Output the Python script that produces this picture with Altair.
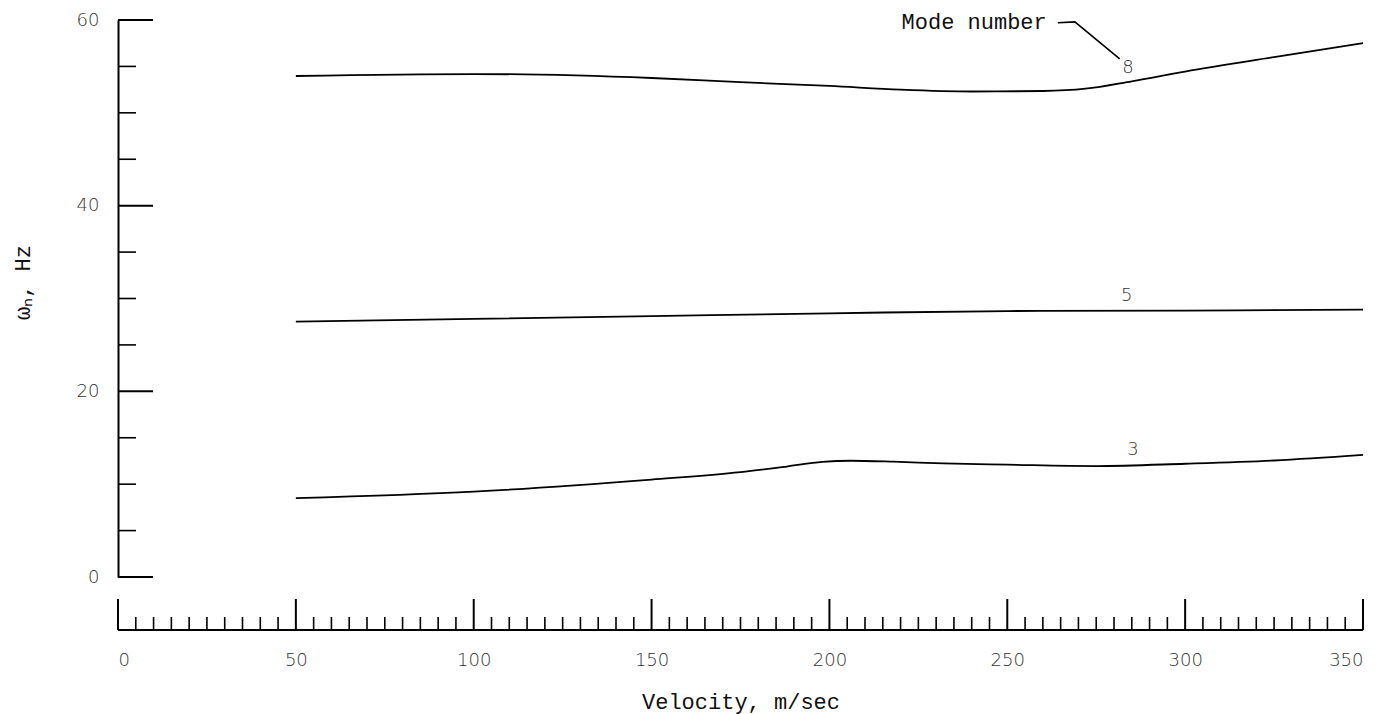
import altair as alt
import pandas as pd

# ---- data ----
mode8_v = [50, 100, 150, 175, 200, 220, 240, 260, 272, 285, 300, 325, 350]
mode8_f = [53.97, 54.18, 53.75, 53.3, 52.9, 52.5, 52.3, 52.35, 52.6, 53.4, 54.45, 56.0, 57.5]

mode5_v = [50, 100, 150, 200, 250, 300, 350]
mode5_f = [27.5, 27.8, 28.1, 28.4, 28.65, 28.7, 28.8]

mode3_v = [50, 100, 150, 175, 188, 198, 206, 218, 232, 250, 275, 300, 325, 350]
mode3_f = [8.5, 9.2, 10.5, 11.3, 11.9, 12.4, 12.52, 12.42, 12.23, 12.1, 11.95, 12.2, 12.55, 13.15]

mode_labels = ["8", "5", "3"]
mode_label_v = [283.9, 283.6, 285.3]
mode_label_f = [54.83, 30.27, 13.68]

note_text = ["Mode number"]
note_v = [261.1]
note_f = [59.8]
leader_v = [264.2, 269.0, 281.6]
leader_f = [59.7, 59.8, 55.8]

x_major = [0, 50, 100, 150, 200, 250, 300, 350]
x_minor = [v for v in range(5, 350, 5) if v % 50 != 0]
y_major = [0, 20, 40, 60]
y_minor = [v for v in range(5, 60, 5) if v % 20 != 0]

W, H = 1245, 557
AX_OFF = 53

rows = []
for name, vs, fs in [("8", mode8_v, mode8_f), ("5", mode5_v, mode5_f), ("3", mode3_v, mode3_f)]:
    for i, (v, f) in enumerate(zip(vs, fs)):
        rows.append({"mode": name, "v": v, "f": f, "i": i})
curves = pd.DataFrame(rows)

xs = alt.Scale(domain=[0, 350], nice=False, zero=False)
ys = alt.Scale(domain=[0, 60], nice=False, zero=False)

LABEL_FONT = "DejaVu Sans"
TITLE_FONT = "Liberation Mono"
TXT = "#333"

base_x = alt.X("v:Q", scale=xs, axis=alt.Axis(
    title="Velocity, m/sec", values=x_major, format="d", offset=AX_OFF,
    domain=False, ticks=False, grid=False, labelPadding=21,
    labelFont=LABEL_FONT, labelFontSize=18, labelFontWeight=300, labelColor=TXT,
    titleFont=TITLE_FONT, titleFontSize=22, titleFontWeight="normal", titleColor="#111",
    titlePadding=22))
base_y = alt.Y("f:Q", scale=ys, axis=alt.Axis(
    title="ωₙ, Hz", values=y_major, format="d",
    domain=True, domainColor="black", domainWidth=2, ticks=False, grid=False,
    labelPadding=19, labelFont=LABEL_FONT, labelFontSize=18, labelFontWeight=300,
    labelColor=TXT, titleFont=TITLE_FONT, titleFontSize=22, titleFontWeight="normal",
    titleColor="#111", titleX=-96, titleY=262, titleAngle=270, titleAlign="center",
    titleBaseline="middle"))

lines = alt.Chart(curves).mark_line(color="black", strokeWidth=1.8, interpolate="monotone").encode(
    x=base_x, y=base_y, detail="mode:N", order="i:Q")

# y ticks pointing inward
yt_major = alt.Chart(pd.DataFrame({"f": y_major})).mark_rule(color="black", strokeWidth=2).encode(
    y=alt.Y("f:Q", scale=ys), x=alt.value(0), x2=alt.value(35))
yt_minor = alt.Chart(pd.DataFrame({"f": y_minor})).mark_rule(color="black", strokeWidth=1.6).encode(
    y=alt.Y("f:Q", scale=ys), x=alt.value(0), x2=alt.value(18))

# x axis line with upward ticks
xbase = alt.Chart(pd.DataFrame({"a": [0], "b": [350]})).mark_rule(color="black", strokeWidth=2).encode(
    x=alt.X("a:Q", scale=xs), x2="b:Q", y=alt.value(H + AX_OFF))
xt_major = alt.Chart(pd.DataFrame({"v": x_major})).mark_rule(color="black", strokeWidth=2).encode(
    x=alt.X("v:Q", scale=xs), y=alt.value(H + AX_OFF - 31), y2=alt.value(H + AX_OFF))
xt_minor = alt.Chart(pd.DataFrame({"v": x_minor})).mark_rule(color="black", strokeWidth=1.6).encode(
    x=alt.X("v:Q", scale=xs), y=alt.value(H + AX_OFF - 13), y2=alt.value(H + AX_OFF))

labels = alt.Chart(pd.DataFrame({"t": mode_labels, "v": mode_label_v, "f": mode_label_f})).mark_text(
    font=LABEL_FONT, fontSize=18, fontWeight=300, color=TXT, align="center", baseline="middle").encode(
    x=alt.X("v:Q", scale=xs), y=alt.Y("f:Q", scale=ys), text="t:N")

note = alt.Chart(pd.DataFrame({"t": note_text, "v": note_v, "f": note_f})).mark_text(
    font=TITLE_FONT, fontSize=22, color="#111", align="right", baseline="middle").encode(
    x=alt.X("v:Q", scale=xs), y=alt.Y("f:Q", scale=ys), text="t:N")

leader = alt.Chart(pd.DataFrame({"v": leader_v, "f": leader_f, "i": [0, 1, 2]})).mark_line(
    color="black", strokeWidth=1.6).encode(
    x=alt.X("v:Q", scale=xs), y=alt.Y("f:Q", scale=ys), order="i:Q")

chart = alt.layer(lines, yt_major, yt_minor, xbase, xt_major, xt_minor, labels, note, leader).properties(
    width=W, height=H,
    autosize=alt.AutoSizeParams(type="none"),
    padding={"left": 118, "top": 20, "right": 22, "bottom": 137},
    background="white",
).configure_view(stroke=None)

chart.save("out.html", embed_options={"renderer": "svg", "actions": False})
